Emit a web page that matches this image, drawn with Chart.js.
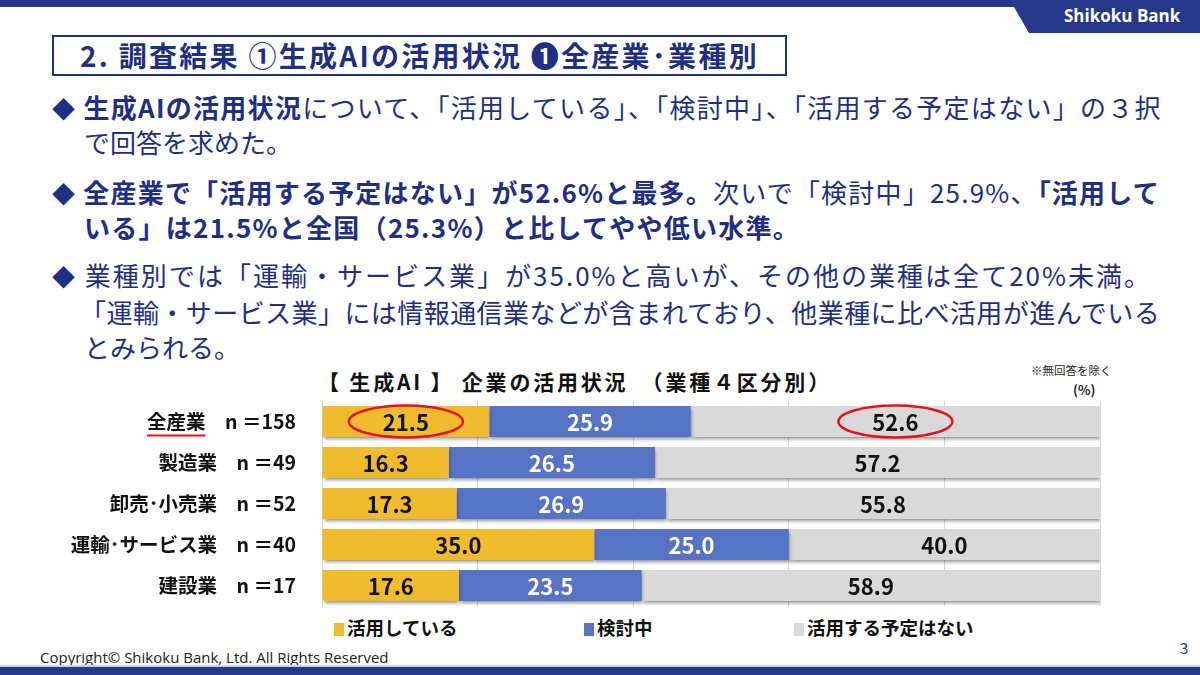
<!DOCTYPE html>
<html lang="ja">
<head>
<meta charset="utf-8">
<script src="https://cdn.jsdelivr.net/npm/chart.js@4"></script>
<style>
  html,body{margin:0;padding:0;}
  body{width:1200px;height:675px;position:relative;overflow:hidden;background:#fff;
       font-family:"Noto Sans CJK JP","Noto Sans",sans-serif;}
  .abs{position:absolute;white-space:nowrap;}
  #stripe{left:0;top:0;width:1200px;height:7px;background:#26388a;}
  #tab{left:1010px;top:0;width:190px;height:33px;background:#26388a;
       clip-path:polygon(0 0,100% 0,100% 100%,10% 100%);}
  #tabtxt{left:1064px;top:4px;color:#fff;font:bold 17px "Open Sans","Noto Sans",sans-serif;}
  #titlebox{left:52px;top:35px;width:731px;height:37px;border:2.5px solid #1f2f86;}
  #titletxt{left:80px;top:34px;font-weight:bold;font-size:28px;line-height:42px;color:#1f2f86;}
  .line{font-size:26px;line-height:36px;color:#1f2f86;}
  .b{font-weight:bold;}
  .dia{font-size:23px;}
  #ctitle{left:318px;top:366px;font-weight:bold;font-size:21px;color:#111;}
  #note{left:1031px;top:362px;font-size:11.5px;color:#222;}
  #pct{left:1073px;top:380px;font-size:13px;font-weight:bold;color:#222;}
  #chartwrap{left:0;top:395px;width:1200px;height:215px;}
  .leg{top:614px;font-weight:bold;font-size:18.5px;color:#111;}
  .sq{display:inline-block;width:10px;height:13px;margin-right:3px;vertical-align:-1px;}
  #copy{left:40px;top:648px;font-size:15px;line-height:18px;color:#222;font-family:"Open Sans","Noto Sans",sans-serif;letter-spacing:0px;}
  #page{left:1180px;top:637px;font-size:15px;color:#26388a;}
  #bottom{left:0;top:667px;width:1200px;height:8px;background:#26388a;}
  #bottomline{left:0;top:665px;width:1200px;height:2px;background:#c9d3ea;}
</style>
</head>
<body>
<div class="abs" id="stripe"></div>
<div class="abs" id="tab"></div>
<div class="abs" id="tabtxt">Shikoku Bank</div>

<div class="abs" id="titlebox"></div>
<div class="abs fit" id="titletxt" data-right="759">2. 調査結果 ①生成AIの活用状況 ❶全産業･業種別</div>

<div class="abs line fit" data-right="1162" style="left:52px;top:89px;"><span class="dia">◆</span> <span class="b">生成AIの活用状況</span>について、「活用している」、「検討中」、「活用する予定はない」の３択</div>
<div class="abs line" style="left:84px;top:124px;">で回答を求めた。</div>

<div class="abs line fit" data-right="1160" style="left:52px;top:174px;"><span class="dia">◆</span> <span class="b">全産業で「活用する予定はない」が52.6%と最多。</span>次いで「検討中」25.9%、<span class="b">「活用して</span></div>
<div class="abs line b fit" data-right="800" style="left:84px;top:209px;">いる」は21.5%と全国（25.3%）と比してやや低い水準。</div>

<div class="abs line fit" data-right="1152" style="left:52px;top:257px;"><span class="dia">◆</span> 業種別では「運輸・サービス業」が35.0%と高いが、その他の業種は全て20%未満。</div>
<div class="abs line fit" data-right="1160" style="left:80px;top:294px;">「運輸・サービス業」には情報通信業などが含まれており、他業種に比べ活用が進んでいる</div>
<div class="abs line" style="left:84px;top:329px;">とみられる。</div>

<div class="abs fit" id="ctitle" data-right="832">【 生成AI 】 企業の活用状況　（業種４区分別）</div>
<div class="abs" id="note">※無回答を除く</div>
<div class="abs" id="pct">(%)</div>

<div class="abs" id="chartwrap"><canvas id="c" width="1200" height="215"></canvas></div>

<div class="abs leg" style="left:334px;"><span class="sq" style="background:#f0bc2e"></span>活用している</div>
<div class="abs leg" style="left:584px;"><span class="sq" style="background:#5673c4"></span>検討中</div>
<div class="abs leg" style="left:794px;"><span class="sq" style="background:#d9d9d9"></span>活用する予定はない</div>

<div class="abs" id="copy">Copyright© Shikoku Bank, Ltd. All Rights Reserved</div>
<div class="abs" id="page">3</div>
<div class="abs" id="bottomline"></div>
<div class="abs" id="bottom"></div>

<script>
// fit text lines to the reference's widths
document.querySelectorAll(".fit").forEach(el => {
  const target = parseFloat(el.dataset.right) - el.offsetLeft;
  const w = el.getBoundingClientRect().width;
  const n = Array.from(el.textContent).length;
  el.style.letterSpacing = ((target - w) / n).toFixed(2) + "px";
});
</script>

<script>
const categories = ["全産業", "製造業", "卸売･小売業", "運輸･サービス業", "建設業"];
const sampleSizes = ["n ＝158", "n ＝49", "n ＝52", "n ＝40", "n ＝17"];
const seriesNames = ["活用している", "検討中", "活用する予定はない"];
const using = [21.5, 16.3, 17.3, 35.0, 17.6];
const considering = [25.9, 26.5, 26.9, 25.0, 23.5];
const notPlanned = [52.6, 57.2, 55.8, 40.0, 58.9];
const seriesColors = ["#f0bc2e", "#5673c4", "#d9d9d9"];
const labelColors = ["#111111", "#ffffff", "#111111"];
const highlights = [[0, 0], [2, 0]]; // [datasetIndex, categoryIndex]

const yLabels = categories.map((c, i) => c + "　" + sampleSizes[i]);
const LABEL_SIZE = 19.5;
const LABEL_FONT = 'bold ' + LABEL_SIZE + 'px "Noto Sans CJK JP", sans-serif';
const TICK_PAD = 26;

const decoPlugin = {
  id: "deco",
  beforeDatasetsDraw(chart) {
    const ctx = chart.ctx;
    ctx.save();
    ctx.shadowColor = "rgba(0,0,0,0.35)";
    ctx.shadowOffsetY = 3;
    ctx.shadowOffsetX = 1;
    ctx.shadowBlur = 3;
  },
  afterDatasetsDraw(chart) {
    const ctx = chart.ctx;
    ctx.restore();
    ctx.save();
    ctx.font = 'bold 22px "Noto Sans CJK JP", sans-serif';
    ctx.textAlign = "center";
    ctx.textBaseline = "middle";
    chart.data.datasets.forEach((ds, di) => {
      const meta = chart.getDatasetMeta(di);
      meta.data.forEach((el, i) => {
        const cx = (el.x + el.base) / 2;
        ctx.fillStyle = labelColors[di];
        ctx.fillText(ds.data[i].toFixed(1), cx, el.y + 1);
      });
    });
    ctx.strokeStyle = "#e0141e";
    ctx.lineWidth = 2.5;
    highlights.forEach(([di, i]) => {
      const el = chart.getDatasetMeta(di).data[i];
      const cx = (el.x + el.base) / 2;
      ctx.beginPath();
      ctx.ellipse(cx, el.y, 57, 16, 0, 0, Math.PI * 2);
      ctx.stroke();
    });
    ctx.restore();
  },
  afterDraw(chart) {
    const ctx = chart.ctx;
    const ys = chart.scales.y;
    const yPos = ys.getPixelForValue(0);
    ctx.save();
    ctx.font = LABEL_FONT;
    const right = ys.right - TICK_PAD;
    const full = ctx.measureText(yLabels[0]).width;
    const nameW = ctx.measureText(categories[0]).width;
    const left = right - full;
    ctx.strokeStyle = "#e0141e";
    ctx.lineWidth = 2;
    ctx.beginPath();
    ctx.moveTo(left, yPos + 14);
    ctx.lineTo(left + nameW, yPos + 14);
    ctx.stroke();
    ctx.restore();
  }
};

new Chart(document.getElementById("c"), {
  type: "bar",
  data: {
    labels: yLabels,
    datasets: [
      { label: seriesNames[0], data: using, backgroundColor: seriesColors[0] },
      { label: seriesNames[1], data: considering, backgroundColor: seriesColors[1] },
      { label: seriesNames[2], data: notPlanned, backgroundColor: seriesColors[2] }
    ]
  },
  options: {
    indexAxis: "y",
    responsive: false,
    animation: false,
    devicePixelRatio: 1,
    layout: { padding: { top: 6, bottom: 4, left: 0, right: 100 } },
    datasets: { bar: { barPercentage: 0.76, categoryPercentage: 1.0, borderWidth: 0 } },
    plugins: { legend: { display: false }, tooltip: { enabled: false } },
    scales: {
      x: {
        stacked: true, min: 0, max: 100,
        ticks: { display: false, stepSize: 20 },
        grid: { color: "#d6d6d6", drawTicks: false, lineWidth: 1 },
        border: { display: false }
      },
      y: {
        stacked: true,
        afterFit(scale) { scale.width = 322; scale.paddingTop = 0; scale.paddingBottom = 0; },
        ticks: { color: "#111", padding: TICK_PAD, font: { family: '"Noto Sans CJK JP", sans-serif', size: LABEL_SIZE, weight: "bold" } },
        grid: { display: false, drawTicks: false },
        border: { display: false }
      }
    }
  },
  plugins: [decoPlugin]
});
</script>
</body>
</html>
